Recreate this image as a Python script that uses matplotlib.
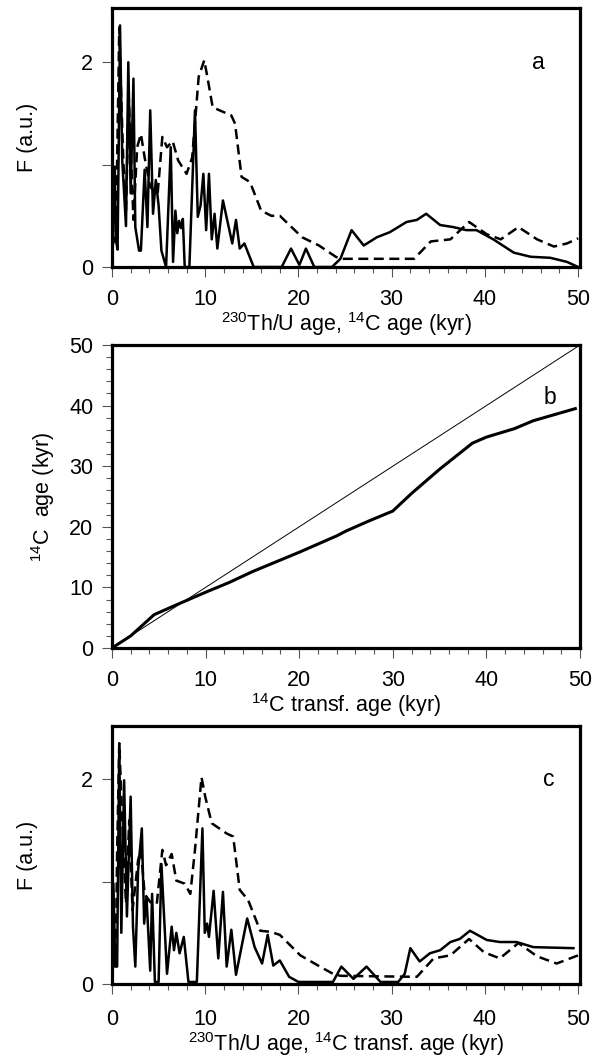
import matplotlib
matplotlib.use("Agg")
import matplotlib.pyplot as plt
from matplotlib.ticker import MultipleLocator

plt.rcParams['font.family'] = ['Liberation Sans', 'DejaVu Sans']
plt.rcParams['mathtext.fontset'] = 'custom'
plt.rcParams['mathtext.rm'] = 'Liberation Sans'
plt.rcParams['mathtext.default'] = 'regular'

# ---- Panel a: F vs 230Th/U age (solid) and 14C age (dashed)
a_solid_x = [0, 0.3, 0.4, 0.6, 0.86, 1.1, 1.5, 1.75, 2.0, 2.3, 2.5, 2.9, 3.1, 3.5, 3.8, 4.1, 4.4, 4.7, 5.0, 5.3,
             5.8, 6.3, 6.55, 6.8, 7.0, 7.2, 7.4, 7.6, 7.8, 8.3, 8.9, 9.2, 9.5, 9.8, 10.1, 10.4, 10.7, 11.0, 11.3,
             11.9, 12.9, 13.3, 13.7, 14.2, 15.2, 18.2, 19.2, 20.1, 20.8, 21.7, 23.6, 24.5, 25.7, 27.0, 28.4,
             29.8, 31.6, 32.7, 33.7, 35.2, 36.6, 38.0, 39.1, 40.9, 43.1, 44.9, 47.0, 48.8, 50.0]
a_solid_y = [0.14, 0.98, 0.27, 0.17, 2.36, 1.04, 0.4, 2.0, 0.72, 1.84, 0.39, 0.16, 0.16, 0.95, 0.39, 1.53, 0.52,
             0.85, 0.6, 0.16, 0.0, 1.17, 0.05, 0.55, 0.33, 0.45, 0.38, 0.47, 0.0, 0.0, 1.53, 0.49, 0.6, 0.91,
             0.36, 0.91, 0.27, 0.52, 0.18, 0.65, 0.23, 0.46, 0.18, 0.23, 0.0, 0.0, 0.18, 0.02, 0.18, 0.0, 0.0,
             0.08, 0.36, 0.21, 0.29, 0.34, 0.44, 0.46, 0.52, 0.41, 0.39, 0.36, 0.36, 0.27, 0.14, 0.10, 0.09,
             0.05, 0.0]
a_dash_x = [0, 0.4, 0.55, 0.78, 1.0, 1.2, 1.5, 1.8, 2.3, 2.7, 3.1, 3.5, 4.1, 4.9, 5.4, 5.9, 6.5, 7.1, 8.0, 8.6,
            9.3, 9.9, 10.3, 10.8, 12.8, 13.2, 13.9, 14.8, 16.0, 17.1, 18.0, 20.4, 22.2, 24.0, 24.5, 32.4, 34.2,
            36.3, 38.3, 40.2, 41.7, 43.6, 45.6, 47.4, 48.8, 50.0]
a_dash_y = [0.2, 0.3, 1.04, 2.34, 1.63, 1.07, 0.55, 1.66, 0.46, 1.17, 1.3, 1.07, 0.78, 0.72, 1.27, 1.17, 1.23,
            1.04, 0.91, 1.07, 1.86, 2.02, 1.82, 1.56, 1.48, 1.40, 0.88, 0.83, 0.55, 0.5, 0.5, 0.29, 0.21, 0.1,
            0.08, 0.08, 0.25, 0.27, 0.44, 0.32, 0.27, 0.39, 0.27, 0.2, 0.23, 0.28]

# ---- Panel b: 14C age vs 14C transformed age
b_x = [0, 2, 4.5, 7, 10, 12.5, 15, 17.5, 20, 24, 25, 27.5, 30, 32, 35, 38.5, 40, 43, 45, 49.5]
b_y = [0, 2, 5.5, 7.2, 9.2, 10.8, 12.6, 14.2, 15.8, 18.5, 19.3, 21.0, 22.6, 25.5, 29.5, 33.8, 34.8, 36.2, 37.5, 39.5]
b_ref_x = [0, 50]
b_ref_y = [0, 50]

# ---- Panel c: F vs 230Th/U age (solid) and 14C transformed age (dashed)
c_solid_x = [0, 0.15, 0.35, 0.55, 0.78, 1.0, 1.3, 1.6, 2.0, 2.25, 2.5, 2.8, 3.2, 3.45, 3.7, 4.1, 4.3, 4.6,
             5.0, 5.3, 5.9, 6.4, 6.65, 6.9, 7.25, 7.7, 8.2, 9.1, 9.7, 9.95, 10.2, 10.4, 10.9, 11.4, 11.9,
             12.3, 12.8, 13.3, 14.5, 15.3, 16.1, 16.7, 17.3, 18.0, 19.0, 20.0, 23.7, 24.6, 25.9, 27.3, 28.8,
             30.7, 31.4, 32.0, 33.0, 34.1, 35.2, 36.3, 37.3, 38.4, 40.2, 41.6, 43.4, 45.2, 49.5]
c_solid_y = [0.17, 0.98, 0.17, 0.17, 2.35, 0.5, 1.99, 0.66, 1.83, 0.56, 0.17, 1.11, 1.52, 0.59, 0.85, 0.13,
             0.88, 0.02, 0.02, 1.17, 0.1, 0.56, 0.33, 0.5, 0.3, 0.46, 0.02, 0.02, 1.52, 0.5, 0.59, 0.46, 0.91,
             0.25, 0.9, 0.17, 0.53, 0.09, 0.64, 0.36, 0.2, 0.48, 0.18, 0.23, 0.07, 0.02, 0.02, 0.17, 0.05,
             0.17, 0.02, 0.02, 0.1, 0.35, 0.22, 0.30, 0.33, 0.41, 0.44, 0.52, 0.43, 0.41, 0.41, 0.36, 0.35]
c_dash_x = [0, 0.4, 0.55, 0.78, 1.2, 1.5, 1.85, 2.2, 2.8, 3.1, 3.5, 4.1, 4.8, 5.4, 5.8, 6.4, 6.9, 7.8, 8.4, 8.9,
            9.6, 10.0, 10.7, 12.3, 13.0, 13.7, 14.6, 15.9, 17.0, 18.0, 20.2, 22.3, 23.7, 24.5, 32.7, 34.5,
            36.3, 38.3, 39.9, 41.6, 43.6, 45.6, 47.7, 50.0]
c_dash_y = [0.15, 0.2, 1.3, 2.35, 1.37, 0.79, 1.6, 0.72, 1.21, 1.31, 0.88, 0.8, 0.78, 1.31, 1.16, 1.27, 1.01,
            0.98, 0.88, 1.31, 2.02, 1.83, 1.57, 1.47, 1.44, 0.92, 0.82, 0.52, 0.51, 0.48, 0.28, 0.17, 0.1,
            0.08, 0.07, 0.25, 0.28, 0.44, 0.31, 0.25, 0.4, 0.27, 0.2, 0.28]

FS = 15.5
W, H = 593, 1063
fig = plt.figure(figsize=(W / 100, H / 100), dpi=100)

def rect(l, r, t, b):
    return [l / W, 1 - b / H, (r - l) / W, (b - t) / H]

ax_a = fig.add_axes(rect(112, 580, 8, 267))
ax_b = fig.add_axes(rect(112, 580, 345, 648))
ax_c = fig.add_axes(rect(112, 580, 726, 984))

def style(ax, xpad, ypad):
    for s in ax.spines.values():
        s.set_linewidth(2.3)
    ax.tick_params(which='major', direction='out', length=7.5, width=0.8, color='#555555',
                   labelsize=FS, top=False, right=False)
    ax.tick_params(which='minor', direction='out', length=4, width=0.8, color='#555555',
                   top=False, right=False)
    ax.tick_params(axis='x', which='major', pad=xpad)
    ax.tick_params(axis='y', which='major', pad=ypad)
    ax.xaxis.set_major_locator(MultipleLocator(10))
    ax.xaxis.set_minor_locator(MultipleLocator(2))

dash = (0, (4.0, 2.2))

# Panel a
ax_a.plot(a_solid_x, a_solid_y, color='black', lw=1.8, solid_joinstyle='round')
ax_a.plot(a_dash_x, a_dash_y, color='black', lw=1.8, linestyle=dash)
ax_a.set_xlim(0, 50.2)
ax_a.set_ylim(0, 2.53)
style(ax_a, 8.5, 6)
ax_a.set_yticks([0, 1, 2])
ax_a.set_yticklabels(['0', '', '2'])
ax_a.set_ylabel('F (a.u.)', fontsize=FS, labelpad=31)
ax_a.set_xlabel(r'$^{230}$Th/U age, $^{14}$C age (kyr)', fontsize=FS, labelpad=0)
ax_a.text(45.7, 2.0, 'a', fontsize=FS + 1, ha='center', va='center')

# Panel b
ax_b.plot(b_ref_x, b_ref_y, color='black', lw=0.7)
ax_b.plot(b_x, b_y, color='black', lw=2.2)
ax_b.set_xlim(0, 50)
ax_b.set_ylim(0, 50)
style(ax_b, 8.5, 6)
ax_b.yaxis.set_major_locator(MultipleLocator(10))
ax_b.yaxis.set_minor_locator(MultipleLocator(2))
ax_b.set_ylabel(r'$^{14}$C  age (kyr)', fontsize=FS, labelpad=9)
ax_b.set_xlabel(r'$^{14}$C transf. age (kyr)', fontsize=FS, labelpad=0)
ax_b.text(46.8, 41.4, 'b', fontsize=FS + 1, ha='center', va='center')

# Panel c
ax_c.plot(c_solid_x, c_solid_y, color='black', lw=1.8)
ax_c.plot(c_dash_x, c_dash_y, color='black', lw=1.8, linestyle=dash)
ax_c.set_xlim(0, 50.2)
ax_c.set_ylim(0, 2.52)
style(ax_c, 10.5, 6)
ax_c.set_yticks([0, 1, 2])
ax_c.set_yticklabels(['0', '', '2'])
ax_c.set_ylabel('F (a.u.)', fontsize=FS, labelpad=31)
ax_c.set_xlabel(r'$^{230}$Th/U age, $^{14}$C transf. age (kyr)', fontsize=FS, labelpad=0)
ax_c.text(46.8, 2.0, 'c', fontsize=FS + 1, ha='center', va='center')

fig.savefig('out.png', dpi=100)
